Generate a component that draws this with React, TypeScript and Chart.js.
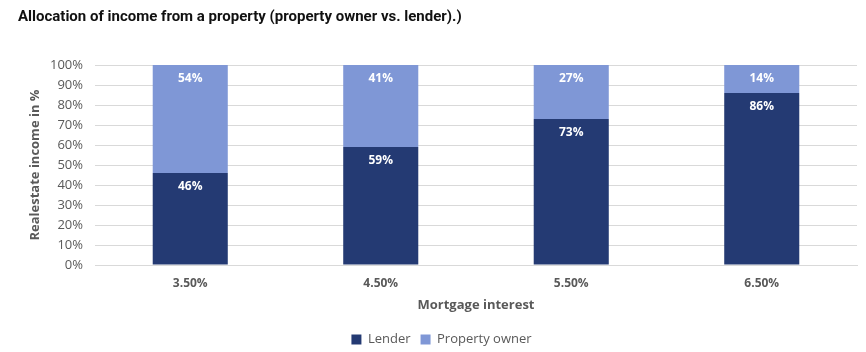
import React, { useEffect, useRef } from "react";
import { Chart, registerables } from "chart.js";

Chart.register(...registerables);

const categories = ["3.50%", "4.50%", "5.50%", "6.50%"];
const lenderValues = [46, 59, 73, 86];
const ownerValues = [54, 41, 27, 14];
const seriesNames = ["Lender", "Property owner"];
const titleText = "Allocation of income from a property (property owner vs. lender).)";
const yTitle = "Realestate income in %";
const xTitle = "Mortgage interest";

const LENDER = "#243a73";
const OWNER = "#7f97d6";
const GRAY = "#595959";

const titlePlugin = {
  id: "topTitle",
  afterDraw(chart: any) {
    const ctx = chart.ctx;
    ctx.save();
    ctx.font = "bold 15px Roboto";
    ctx.fillStyle = "#111111";
    ctx.textAlign = "left";
    ctx.textBaseline = "middle";
    ctx.fillText(titleText, 18, 17);
    ctx.restore();
  },
};

const labelPlugin = {
  id: "barLabels",
  afterDatasetsDraw(chart: any) {
    const ctx = chart.ctx;
    ctx.save();
    ctx.font = "bold 12px 'Open Sans'";
    ctx.fillStyle = "#ffffff";
    ctx.textAlign = "center";
    ctx.textBaseline = "middle";
    chart.data.datasets.forEach((ds: any, di: number) => {
      const meta = chart.getDatasetMeta(di);
      meta.data.forEach((bar: any, i: number) => {
        const v = ds.data[i];
        ctx.fillText(v + "%", bar.x, bar.y + 14);
      });
    });
    ctx.restore();
  },
};

export default function App() {
  const ref = useRef<HTMLCanvasElement>(null);
  useEffect(() => {
    if (!ref.current) return;
    const chart = new Chart(ref.current, {
      type: "bar",
      data: {
        labels: categories,
        datasets: [
          { label: seriesNames[0], data: lenderValues, backgroundColor: LENDER, borderWidth: 0 },
          { label: seriesNames[1], data: ownerValues, backgroundColor: OWNER, borderWidth: 0 },
        ],
      },
      options: {
        responsive: false,
        animation: false,
        layout: { padding: { top: 65, left: 26, right: 9, bottom: -4 } },
        datasets: { bar: { barPercentage: 1, categoryPercentage: 0.394 } } as any,
        scales: {
          x: {
            stacked: true,
            grid: { display: false, drawTicks: false },
            border: { display: true, color: "#d9d9d9" },
            ticks: { color: GRAY, font: { family: "'Open Sans'", size: 12, weight: "bold" }, padding: 11 },
            title: {
              display: true,
              text: xTitle,
              color: GRAY,
              font: { family: "'Open Sans'", size: 13, weight: "bold" },
              padding: { top: 0, bottom: 10 },
            },
            afterFit(scale: any) {
              scale.height = 58;
            },
          },
          y: {
            stacked: true,
            min: 0,
            max: 100,
            ticks: {
              stepSize: 10,
              color: GRAY,
              font: { family: "'Open Sans'", size: 13 },
              padding: 12,
              callback: (v: any) => v + "%",
            },
            grid: { color: "#d9d9d9", drawTicks: false },
            border: { display: false },
            title: {
              display: true,
              text: yTitle,
              color: GRAY,
              font: { family: "'Open Sans'", size: 13, weight: "bold" },
              padding: { top: 1, bottom: 0 },
            },
            afterFit(scale: any) {
              scale.width = 69;
            },
          },
        },
        plugins: {
          legend: {
            position: "bottom",
            labels: {
              color: GRAY,
              font: { family: "'Open Sans'", size: 13 },
              boxWidth: 10,
              boxHeight: 10,
              padding: 10,
            },
          },
          title: { display: false },
          tooltip: { enabled: false },
        },
      },
      plugins: [titlePlugin, labelPlugin],
    });
    return () => chart.destroy();
  }, []);
  return (
    <div style={{ position: "absolute", left: 0, top: 0, width: 866, height: 352, background: "#fff" }}>
      <canvas ref={ref} width={866} height={352} />
    </div>
  );
}
